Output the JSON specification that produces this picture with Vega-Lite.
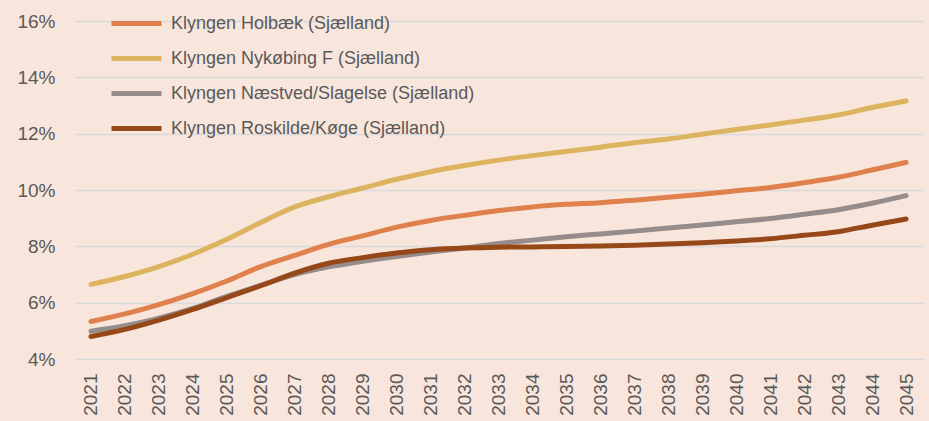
{
  "$schema": "https://vega.github.io/schema/vega-lite/v6.json",
  "width": 849,
  "height": 338,
  "autosize": {"type": "none"},
  "padding": {"left": 74, "top": 21, "right": 6, "bottom": 62},
  "background": "#F8E6DC",
  "config": {
    "view": {"stroke": null},
    "font": "Liberation Sans"
  },
  "datasets": {
    "wide": [
      {"year": "2021", "a": 5.33, "b": 6.65, "c": 4.99, "d": 4.80},
      {"year": "2022", "a": 5.60, "b": 6.93, "c": 5.18, "d": 5.05},
      {"year": "2023", "a": 5.93, "b": 7.28, "c": 5.45, "d": 5.38},
      {"year": "2024", "a": 6.32, "b": 7.72, "c": 5.80, "d": 5.76},
      {"year": "2025", "a": 6.77, "b": 8.25, "c": 6.22, "d": 6.18},
      {"year": "2026", "a": 7.28, "b": 8.85, "c": 6.62, "d": 6.60},
      {"year": "2027", "a": 7.68, "b": 9.40, "c": 7.00, "d": 7.05},
      {"year": "2028", "a": 8.07, "b": 9.76, "c": 7.27, "d": 7.40},
      {"year": "2029", "a": 8.37, "b": 10.07, "c": 7.47, "d": 7.60},
      {"year": "2030", "a": 8.68, "b": 10.38, "c": 7.64, "d": 7.76},
      {"year": "2031", "a": 8.92, "b": 10.65, "c": 7.80, "d": 7.88},
      {"year": "2032", "a": 9.10, "b": 10.87, "c": 7.94, "d": 7.94},
      {"year": "2033", "a": 9.27, "b": 11.06, "c": 8.10, "d": 7.97},
      {"year": "2034", "a": 9.40, "b": 11.22, "c": 8.22, "d": 7.98},
      {"year": "2035", "a": 9.49, "b": 11.37, "c": 8.34, "d": 7.99},
      {"year": "2036", "a": 9.55, "b": 11.52, "c": 8.44, "d": 8.01},
      {"year": "2037", "a": 9.64, "b": 11.68, "c": 8.54, "d": 8.04},
      {"year": "2038", "a": 9.74, "b": 11.81, "c": 8.65, "d": 8.08},
      {"year": "2039", "a": 9.85, "b": 11.98, "c": 8.76, "d": 8.13},
      {"year": "2040", "a": 9.97, "b": 12.15, "c": 8.87, "d": 8.19},
      {"year": "2041", "a": 10.09, "b": 12.31, "c": 8.99, "d": 8.27},
      {"year": "2042", "a": 10.26, "b": 12.48, "c": 9.14, "d": 8.39},
      {"year": "2043", "a": 10.45, "b": 12.66, "c": 9.30, "d": 8.52},
      {"year": "2044", "a": 10.71, "b": 12.93, "c": 9.53, "d": 8.75},
      {"year": "2045", "a": 10.98, "b": 13.16, "c": 9.80, "d": 8.97}
    ]
  },
  "data": {"name": "wide"},
  "transform": [
    {"fold": ["a", "b", "c", "d"], "as": ["key", "value"]},
    {"lookup": "key", "from": {"data": {"values": [
      {"key": "a", "series": "Klyngen Holbæk (Sjælland)"},
      {"key": "b", "series": "Klyngen Nykøbing F (Sjælland)"},
      {"key": "c", "series": "Klyngen Næstved/Slagelse (Sjælland)"},
      {"key": "d", "series": "Klyngen Roskilde/Køge (Sjælland)"}
    ]}, "key": "key", "fields": ["series"]}}
  ],
  "mark": {"type": "line", "strokeWidth": 5, "strokeCap": "round", "strokeJoin": "round", "interpolate": "monotone"},
  "encoding": {
    "x": {
      "field": "year", "type": "ordinal",
      "scale": {"paddingOuter": 0.5},
      "axis": {
        "title": null, "labelAngle": -90, "labelPadding": 14, "labelFontSize": 19,
        "labelColor": "#595959", "domain": false, "ticks": false, "grid": false
      }
    },
    "y": {
      "field": "value", "type": "quantitative",
      "scale": {"domain": [4, 16], "nice": false, "zero": false},
      "axis": {
        "title": null, "values": [4, 6, 8, 10, 12, 14, 16], "labelExpr": "datum.value + '%'",
        "labelFontSize": 19, "labelColor": "#595959", "labelPadding": 19,
        "domain": false, "ticks": false, "grid": true, "gridColor": "#D9D9DB", "gridWidth": 1.5
      }
    },
    "color": {
      "field": "series", "type": "nominal",
      "scale": {
        "domain": ["Klyngen Holbæk (Sjælland)", "Klyngen Nykøbing F (Sjælland)", "Klyngen Næstved/Slagelse (Sjælland)", "Klyngen Roskilde/Køge (Sjælland)"],
        "range": ["#E0804C", "#DCB45F", "#968C8C", "#964819"]
      },
      "legend": {
        "title": null, "orient": "none", "legendX": 50, "legendY": -10,
        "symbolType": "M-2.5,0H2.5", "symbolSize": 400, "symbolStrokeWidth": 5,
        "labelFontSize": 18, "labelColor": "#595959", "labelOffset": 22,
        "rowPadding": 12, "padding": 0, "labelLimit": 400
      }
    },
    "order": {"field": "key"}
  }
}
